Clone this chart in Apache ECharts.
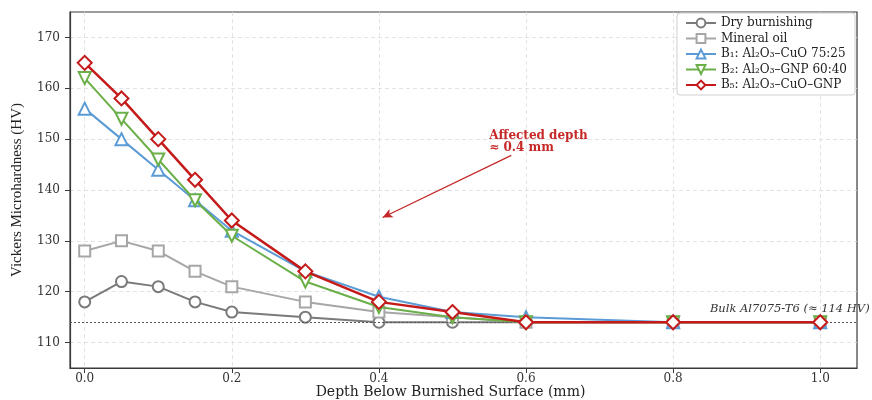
<!DOCTYPE html>
<html>
<head>
<meta charset="utf-8">
<script src="https://cdn.jsdelivr.net/npm/echarts@6/dist/echarts.min.js"></script>
<style>
html,body{margin:0;padding:0;background:#fff;}
#chart{width:872px;height:400px;}
</style>
</head>
<body>
<div id="chart"></div>
<script>
// ---- data ----
const depth = [0.0, 0.05, 0.1, 0.15, 0.2, 0.3, 0.4, 0.5, 0.6, 0.8, 1.0];
const dryBurnishing = [118, 122, 121, 118, 116, 115, 114, 114, 114, 114, 114];
const mineralOil    = [128, 130, 128, 124, 121, 118, 116, 115, 114, 114, 114];
const b1CuO         = [156, 150, 144, 138, 132, 124, 119, 116, 115, 114, 114];
const b2GNP         = [162, 154, 146, 138, 131, 122, 117, 115, 114, 114, 114];
const b5Hybrid      = [165, 158, 150, 142, 134, 124, 118, 116, 114, 114, 114];
const seriesNames = ['Dry burnishing', 'Mineral oil', 'B\u2081: Al\u2082O\u2083\u2013CuO 75:25', 'B\u2082: Al\u2082O\u2083\u2013GNP 60:40', 'B\u2085: Al\u2082O\u2083\u2013CuO\u2013GNP'];
const xTicks = [0.0, 0.2, 0.4, 0.6, 0.8, 1.0];
const yTicks = [110, 120, 130, 140, 150, 160, 170];
const bulkHV = 114;
const bulkLabel = 'Bulk Al7075-T6 (\u2248 114 HV)';
const bulkLabelAt = [0.85, 115.5];
const annotText = 'Affected depth\n\u2248 0.4 mm';
const annotFrom = [0.58, 146.8];
const annotTo = [0.405, 134.6];
const annotTextAt = [0.55, 151.8];

const serif = 'DejaVu Serif';
function pairs(ys){ return depth.map((d,i)=>[d, ys[i]]); }

const styles = [
  {color:'#7a7a7a', symbol:'circle', size:11, width:2},
  {color:'#a6a6a6', symbol:'rect', size:11, width:2},
  {color:'#5b9bd5', symbol:'triangle', size:12, width:2},
  {color:'#6aaf48', symbol:'path://M0,0 L10,0 L5,9 Z', size:12, width:2},
  {color:'#c41a1a', symbol:'diamond', size:14, width:2.5}
];
const dataSets = [dryBurnishing, mineralOil, b1CuO, b2GNP, b5Hybrid];

const series = dataSets.map((ys, i) => ({
  name: seriesNames[i],
  type: 'line',
  data: pairs(ys),
  symbol: styles[i].symbol,
  symbolSize: styles[i].size,
  showAllSymbol: true,
  lineStyle: {color: styles[i].color, width: styles[i].width},
  itemStyle: {color: '#fff', borderColor: styles[i].color, borderWidth: 2},
  z: 3 + i,
  animation: false
}));

// bulk reference line and annotation arrow
series[0].markLine = {
  silent: true, symbol: ['none','none'], animation: false,
  label: {show: false},
  lineStyle: {color: '#555', type: [2, 2], width: 1.2},
  data: [{yAxis: bulkHV}]
};
series[4].markLine = {
  silent: true, animation: false,
  symbol: ['none', 'arrow'], symbolSize: [7, 10],
  label: {show: false},
  lineStyle: {color: '#c62828', type: 'solid', width: 1.3},
  data: [[{coord: annotFrom}, {coord: annotTo}]]
};

const chart = echarts.init(document.getElementById('chart'), null, {renderer: 'canvas'});
chart.setOption({
  animation: false,
  backgroundColor: '#fff',
  grid: {left: 70, right: 15, top: 12, bottom: 32, containLabel: false, outerBoundsMode: 'none',
    show: true, borderColor: '#3a3a3a', borderWidth: 1.2, backgroundColor: 'transparent'},
  legend: {
    right: 17, top: 13, orient: 'vertical',
    itemWidth: 30, itemHeight: 11, itemGap: 3.5,
    backgroundColor: '#fff', borderColor: '#cfcfcf', borderWidth: 1, borderRadius: 3,
    padding: [4, 8, 4, 8],
    textStyle: {fontFamily: serif, fontSize: 12, color: '#222'},
    data: seriesNames
  },
  xAxis: {
    type: 'value', min: -0.02, max: 1.05,
    name: 'Depth Below Burnished Surface (mm)', nameLocation: 'middle', nameGap: 17, nameMoveOverlap: false,
    nameTextStyle: {fontFamily: serif, fontSize: 14, color: '#222', padding: [0, 26, 0, 0]},
    axisLine: {show: true, onZero: false, lineStyle: {color: '#3a3a3a', width: 1.2}},
    axisTick: {show: true, length: 5, lineStyle: {color: '#3a3a3a'}, customValues: xTicks},
    axisLabel: {fontFamily: serif, fontSize: 12, color: '#333', margin: 5, customValues: xTicks,
      formatter: v => v.toFixed(1)},
    splitLine: {show: true, lineStyle: {color: '#dcdcdc', type: [4, 3], width: 0.8}}
  },
  yAxis: {
    type: 'value', min: 105, max: 175,
    name: 'Vickers Microhardness (HV)', nameLocation: 'middle', nameGap: 45, nameMoveOverlap: false,
    nameTextStyle: {fontFamily: 'Liberation Serif', fontSize: 15, color: '#222'},
    axisLine: {show: true, onZero: false, lineStyle: {color: '#3a3a3a', width: 1.2}},
    axisTick: {show: true, length: 5, lineStyle: {color: '#3a3a3a'}, customValues: yTicks},
    axisLabel: {fontFamily: serif, fontSize: 12, color: '#333', margin: 10, customValues: yTicks},
    splitLine: {show: true, lineStyle: {color: '#dcdcdc', type: [4, 3], width: 0.8}}
  },
  series: series
});

// text annotations positioned via axis scale
const pBulk = chart.convertToPixel({gridIndex: 0}, bulkLabelAt);
const pAnn = chart.convertToPixel({gridIndex: 0}, annotTextAt);
chart.setOption({
  graphic: [
    {type: 'text', x: pBulk[0], y: pBulk[1], silent: true, z: 0,
     style: {text: bulkLabel, fontFamily: serif, fontStyle: 'italic', fontSize: 11.5, fill: '#333', textVerticalAlign: 'bottom'}},
    {type: 'text', x: pAnn[0], y: pAnn[1], silent: true,
     style: {text: annotText, fontFamily: serif, fontWeight: 'bold', fontSize: 12, lineHeight: 12, fill: '#c62828', textVerticalAlign: 'top'}}
  ]
});
</script>
</body>
</html>
